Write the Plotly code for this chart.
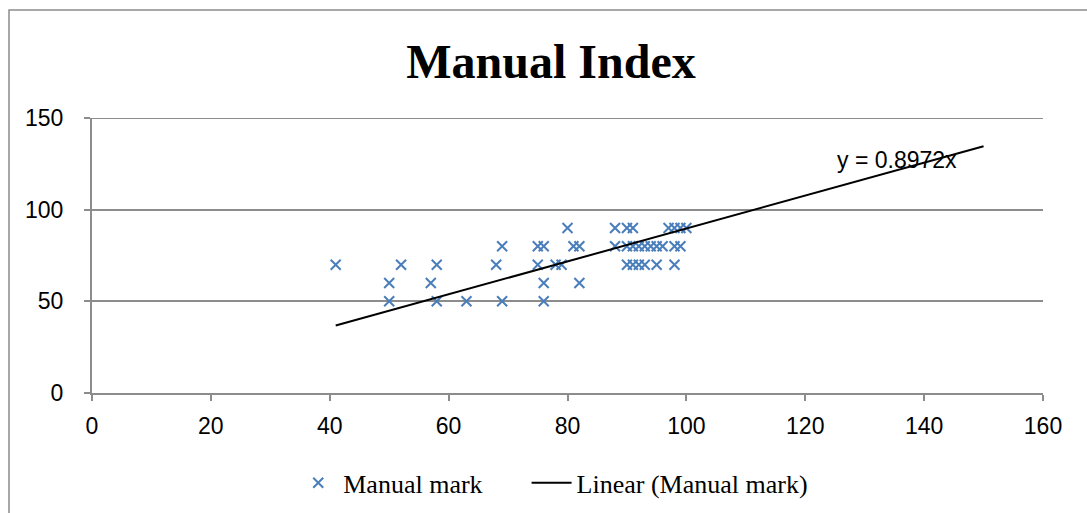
import plotly.graph_objects as go

# Data
manual_x = [41, 50, 50, 52, 57, 58, 58, 63, 68, 69, 69, 75, 76, 75, 76, 76, 78, 79, 80, 81, 82, 82,
            88, 90, 91, 97, 98, 99, 100,
            88, 90, 91, 92, 93, 94, 95, 96, 98, 99,
            90, 91, 92, 93, 95, 98]
manual_y = [70, 60, 50, 70, 60, 70, 50, 50, 70, 80, 50, 80, 80, 70, 60, 50, 70, 70, 90, 80, 80, 60,
            90, 90, 90, 90, 90, 90, 90,
            80, 80, 80, 80, 80, 80, 80, 80, 80, 80,
            70, 70, 70, 70, 70, 70]

trend_slope = 0.8972
trend_x = [41, 150]
trend_y = [trend_slope * v for v in trend_x]

x_ticks = [0, 20, 40, 60, 80, 100, 120, 140, 160]
y_ticks = [0, 50, 100, 150]

blue = "#4a7ebb"
gray = "#8c8c8c"
sans = "Liberation Sans"
serif = "Liberation Serif"

fig = go.Figure()
fig.add_trace(go.Scatter(
    x=manual_x, y=manual_y, mode="markers", name="Manual mark\u00a0\u00a0\u00a0\u00a0\u00a0\u00a0",
    marker=dict(symbol="x-thin", size=10, line=dict(color=blue, width=2), color=blue),
))
fig.add_trace(go.Scatter(
    x=trend_x, y=trend_y, mode="lines", name="Linear (Manual mark)",
    line=dict(color="black", width=2),
))

fig.add_annotation(x=135.4, y=127, text="y = 0.8972x", showarrow=False,
                   font=dict(family=sans, size=23, color="black"), xref="x", yref="y")

# top gridline (at the axis maximum)
fig.add_shape(type="line", xref="paper", yref="y", x0=0, x1=1, y0=150, y1=150,
              line=dict(color=gray, width=2), layer="below")

# chart-area border
fig.add_shape(type="rect", xref="paper", yref="paper",
              x0=(9 - 92) / 951, x1=1.2, y0=-0.6, y1=(393 - 10) / 275,
              line=dict(color=gray, width=1.5), fillcolor="rgba(0,0,0,0)", layer="below")

fig.update_layout(
    width=1087, height=513,
    margin=dict(l=92, r=44, t=118, b=120, autoexpand=False),
    paper_bgcolor="white", plot_bgcolor="white",
    title=dict(text="<b>Manual Index</b>", x=551 / 1087, xanchor="center",
               y=1 - 61 / 513, yanchor="middle",
               font=dict(family=serif, size=48, color="black")),
    xaxis=dict(range=[0, 160], tickvals=x_ticks, showgrid=False, zeroline=False,
               showline=True, linecolor=gray, linewidth=2,
               ticks="outside", ticklen=6, tickcolor=gray, tickwidth=2,
               ticklabelstandoff=5, automargin=False,
               tickfont=dict(family=sans, size=23, color="black")),
    yaxis=dict(range=[0, 150], tickvals=y_ticks, showgrid=True, gridcolor=gray, gridwidth=2,
               zeroline=False, showline=True, linecolor=gray, linewidth=2,
               ticks="outside", ticklen=6, tickcolor=gray, tickwidth=2,
               ticklabelstandoff=16, automargin=False,
               tickfont=dict(family=sans, size=23, color="black")),
    legend=dict(orientation="h", x=0.485, xanchor="center", y=-0.327, yanchor="middle",
                font=dict(family=serif, size=26, color="black"),
                itemwidth=40, tracegroupgap=0),
    showlegend=True,
)

fig.write_html("out.html")
